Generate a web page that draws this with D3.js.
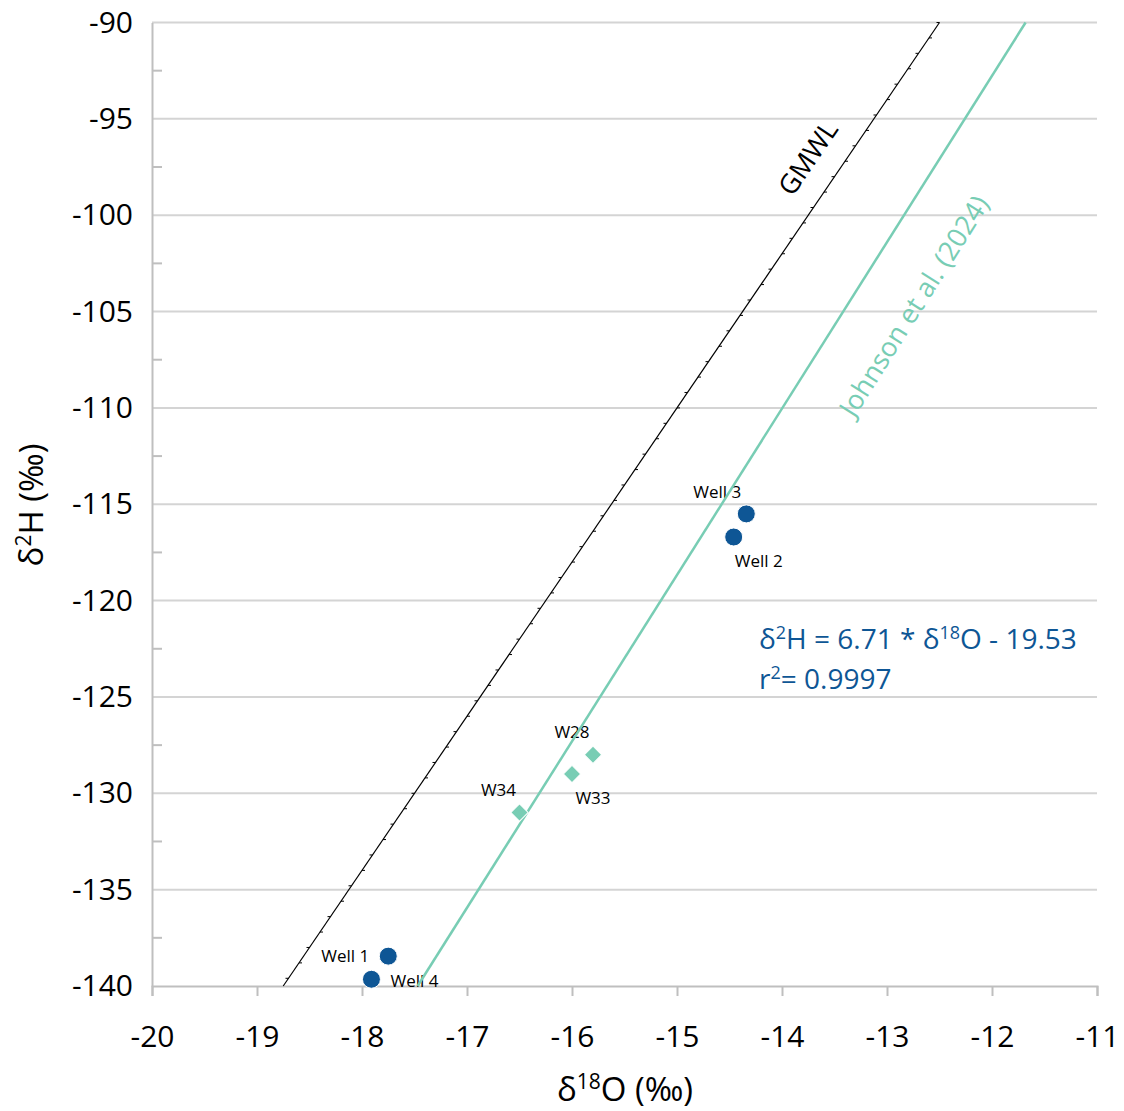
<!DOCTYPE html>
<html>
<head>
<meta charset="utf-8">
<script src="https://cdn.jsdelivr.net/npm/d3@7"></script>
<style>
  body { margin: 0; background: #fff; }
  text { font-family: "Open Sans", "Noto Sans", sans-serif; }
</style>
</head>
<body>
<svg width="1124" height="1111"></svg>
<script>
// tick values
const xTicks = [-20, -19, -18, -17, -16, -15, -14, -13, -12, -11];
const yTicks = [-90, -95, -100, -105, -110, -115, -120, -125, -130, -135, -140];

// wells (blue circles)
const wellNames = ["Well 1", "Well 4", "Well 2", "Well 3"];
const wellO = [-17.75, -17.91, -14.46, -14.34];
const wellH = [-138.45, -139.65, -116.7, -115.5];

// surface samples (green diamonds)
const sampleNames = ["W28", "W33", "W34"];
const sampleO = [-15.8, -16.0, -16.5];
const sampleH = [-128.0, -129.0, -131.0];

// reference lines, endpoints
const gmwlO = [-18.75, -12.5];
const gmwlH = [-140, -90];
const johnsonO = [-17.47, -11.68];
const johnsonH = [-140, -90];

const blue = "#0e5695";
const green = "#78cdb4";

const svg = d3.select("svg");
const margin = {left: 152, right: 1097, top: 22.5, bottom: 986};

const x = d3.scaleLinear().domain([-20, -11]).range([margin.left, margin.right]);
const y = d3.scaleLinear().domain([-140, -90]).range([margin.bottom, margin.top]);

// gridlines
svg.append("g")
    .selectAll("line")
    .data(yTicks.filter(d => d !== -140))
    .enter()
    .append("line")
    .attr("x1", margin.left).attr("x2", margin.right)
    .attr("y1", d => y(d)).attr("y2", d => y(d))
    .attr("stroke", "#d4d4d4")
    .attr("stroke-width", 2);

// y axis (labels only, minor ticks inside)
const yAxis = svg.append("g")
    .attr("transform", `translate(${margin.left},0)`)
    .call(d3.axisLeft(y).tickValues(yTicks).tickSize(0).tickPadding(19).tickFormat(d => String(d)));
yAxis.select(".domain").attr("stroke", "#bfbfbf").attr("stroke-width", 2);
yAxis.selectAll("text").attr("font-size", 30).attr("fill", "#000")
    .style("font-family", "'Open Sans', sans-serif");

svg.append("g")
    .selectAll("line")
    .data(d3.range(-137.5, -90, 5))
    .enter()
    .append("line")
    .attr("x1", margin.left).attr("x2", margin.left + 10)
    .attr("y1", d => y(d)).attr("y2", d => y(d))
    .attr("stroke", "#bfbfbf")
    .attr("stroke-width", 2);

// x axis
const xAxis = svg.append("g")
    .attr("transform", `translate(0,${margin.bottom})`)
    .call(d3.axisBottom(x).tickValues(xTicks).tickSize(10).tickPadding(30).tickFormat(d => String(d)));
xAxis.select(".domain").attr("stroke", "#bfbfbf").attr("stroke-width", 2);
xAxis.selectAll(".tick line").attr("stroke", "#bfbfbf").attr("stroke-width", 2);
xAxis.selectAll("text").attr("font-size", 30).attr("fill", "#000");

// GMWL line with small tick markers
const line = d3.line().x(d => x(d[0])).y(d => y(d[1]));
svg.append("path")
    .attr("d", line(d3.zip(gmwlO, gmwlH)))
    .attr("stroke", "#000").attr("stroke-width", 1.2).attr("fill", "none");

const gmwlSlope = (gmwlH[1] - gmwlH[0]) / (gmwlO[1] - gmwlO[0]);
const gmwlPts = d3.range(0, 63).map(i => gmwlO[0] + 0.05 + i * 0.1);
svg.append("g")
    .selectAll("line")
    .data(gmwlPts)
    .enter()
    .append("line")
    .attr("x1", d => x(d)).attr("y1", d => y(gmwlH[0] + gmwlSlope * (d - gmwlO[0])))
    .attr("x2", (d, i) => x(d) + (i % 2 ? 3 : -3))
    .attr("y2", d => y(gmwlH[0] + gmwlSlope * (d - gmwlO[0])))
    .attr("stroke", "#000").attr("stroke-width", 1);

// sample labels
const wellLabelPos = [
    {dx: -19, dy: 6, anchor: "end"},
    {dx: 19, dy: 8, anchor: "start"},
    {dx: 1, dy: 30, anchor: "start"},
    {dx: -29, dy: -16, anchor: "middle"}
];
svg.append("g")
    .selectAll("text")
    .data(wellNames)
    .enter()
    .append("text")
    .attr("x", (d, i) => x(wellO[i]) + wellLabelPos[i].dx)
    .attr("y", (d, i) => y(wellH[i]) + wellLabelPos[i].dy)
    .attr("text-anchor", (d, i) => wellLabelPos[i].anchor)
    .attr("font-size", 17)
    .attr("fill", "#000")
    .text(d => d);

const sampleLabelPos = [
    {dx: -21, dy: -17},
    {dx: 21, dy: 30},
    {dx: -21, dy: -17}
];
svg.append("g")
    .selectAll("text")
    .data(sampleNames)
    .enter()
    .append("text")
    .attr("x", (d, i) => x(sampleO[i]) + sampleLabelPos[i].dx)
    .attr("y", (d, i) => y(sampleH[i]) + sampleLabelPos[i].dy)
    .attr("text-anchor", "middle")
    .attr("font-size", 17)
    .attr("fill", "#000")
    .text(d => d);

// Johnson et al. line
svg.append("path")
    .attr("d", line(d3.zip(johnsonO, johnsonH)))
    .attr("stroke", green).attr("stroke-width", 2.5).attr("fill", "none");

// markers
svg.append("g")
    .selectAll("circle")
    .data(wellNames)
    .enter()
    .append("circle")
    .attr("cx", (d, i) => x(wellO[i]))
    .attr("cy", (d, i) => y(wellH[i]))
    .attr("r", 9)
    .attr("fill", blue)
    .attr("stroke", "#fff").attr("stroke-width", 1);

svg.append("g")
    .selectAll("path")
    .data(sampleNames)
    .enter()
    .append("path")
    .attr("d", d3.symbol(d3.symbolSquare, 150))
    .attr("transform", (d, i) => `translate(${x(sampleO[i])},${y(sampleH[i])}) rotate(45)`)
    .attr("fill", green)
    .attr("stroke", "#fff").attr("stroke-width", 1);

// line labels
const angle = (o, h) => -Math.atan2(y(h[0]) - y(h[1]), x(o[1]) - x(o[0])) * 180 / Math.PI;
svg.append("text")
    .attr("transform", `translate(808,158) rotate(${angle(gmwlO, gmwlH)})`)
    .attr("text-anchor", "middle").attr("dy", "0.35em")
    .attr("font-size", 27).attr("fill", "#000")
    .text("GMWL");
svg.append("text")
    .attr("transform", `translate(914,306) rotate(${angle(johnsonO, johnsonH)})`)
    .attr("text-anchor", "middle").attr("dy", "0.35em")
    .attr("font-size", 27).attr("fill", green)
    .text("Johnson et al. (2024)");

// regression equation
const eq = svg.append("text").attr("x", 759).attr("y", 649).attr("font-size", 28).attr("fill", blue);
eq.append("tspan").text("δ");
eq.append("tspan").attr("font-size", 18).attr("dy", -10).text("2");
eq.append("tspan").attr("dy", 10).text("H = 6.71 * δ");
eq.append("tspan").attr("font-size", 18).attr("dy", -10).text("18");
eq.append("tspan").attr("dy", 10).text("O - 19.53");

const r2 = svg.append("text").attr("x", 759).attr("y", 689).attr("font-size", 28).attr("fill", blue);
r2.append("tspan").text("r");
r2.append("tspan").attr("font-size", 18).attr("dy", -10).text("2");
r2.append("tspan").attr("dy", 10).text("= 0.9997");

// axis titles
const xt = svg.append("text").attr("x", 625).attr("y", 1101).attr("text-anchor", "middle")
    .attr("font-size", 33).attr("fill", "#000");
xt.append("tspan").text("δ");
xt.append("tspan").attr("font-size", 21).attr("dy", -12).text("18");
xt.append("tspan").attr("dy", 12).text("O (‰)");

const yt = svg.append("text").attr("transform", "translate(43,505) rotate(-90)").attr("text-anchor", "middle")
    .attr("font-size", 33).attr("fill", "#000");
yt.append("tspan").text("δ");
yt.append("tspan").attr("font-size", 21).attr("dy", -12).text("2");
yt.append("tspan").attr("dy", 12).text("H (‰)");
</script>
</body>
</html>
